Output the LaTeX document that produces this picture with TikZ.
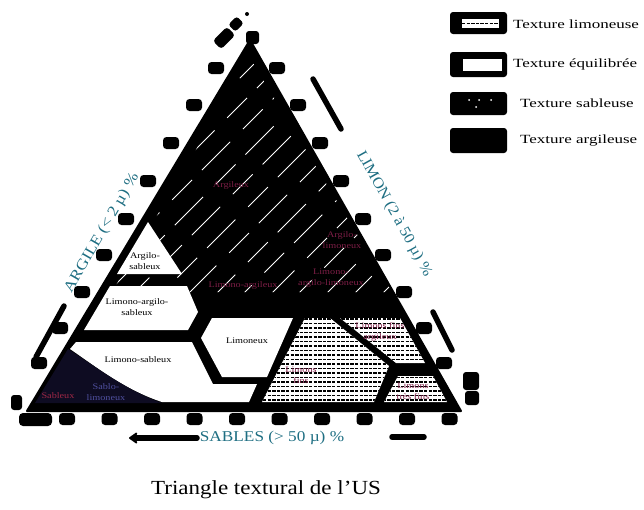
\documentclass[tikz,border=0pt]{standalone}
\usepackage{fontspec}
\setmainfont{Liberation Serif}
\usepackage{graphicx}
\usetikzlibrary{arrows.meta}
\definecolor{axiscol}{RGB}{30,110,130}
\definecolor{labred}{RGB}{125,30,70}
\definecolor{sabred}{RGB}{160,40,70}
\definecolor{sabblue}{RGB}{80,80,160}
\definecolor{sabnavy}{RGB}{14,12,34}
\newcommand{\sx}[2][1.2]{\scalebox{#1}[1]{#2}}
\newcommand{\dotreg}[1]{%
  \fill[white] #1;
  \begin{scope}
    \clip #1;
    \foreach \yy in {319,323.5,...,404} \draw[dashrow] (240,\yy) -- (470,\yy);
  \end{scope}}
\begin{document}
\begin{tikzpicture}[x=1pt,y=-1pt,
  lab/.style={font=\fontsize{8.5}{11}\selectfont, align=center, inner sep=0pt},
  darklab/.style={lab, text=labred},
  axislab/.style={font=\fontsize{15}{16}\selectfont, text=axiscol, inner sep=0pt},
  legtext/.style={font=\fontsize{12.5}{14}\selectfont, anchor=west, inner sep=0pt},
  axisline/.style={line width=5.5pt, line cap=round},
  dashrow/.style={line width=1.1pt, dash pattern=on 3.3pt off 1.3pt},
  hatchline/.style={white, line width=0.8pt},
  legbox/.style={fill=black, rounded corners=3pt}]
\useasboundingbox (0,0) rectangle (644,509);

% ---------- triangle body ----------
\fill[line join=round] (250,40) -- (27,411) -- (461,411) -- cycle;
\draw[line width=2pt, line join=round] (250,40) -- (27,411) -- (461,411) -- cycle;

% white diagonal hatching of the clay zone
\begin{scope}
  \clip (250,58) -- (112,292) -- (392,292) -- cycle;
  \foreach \c/\ph in {318/0,345/14,372/30,400/8,427/22,455/40,482/5,510/18,537/33,565/12,592/26,620/3,648/20,676/9}
    \draw[hatchline, dash pattern=on 28pt off 14pt on 40pt off 18pt, dash phase=\ph pt] (\c-320,320) -- (\c-30,30);
\end{scope}

% white zones
\fill[white] (148,222) -- (117,274) -- (182,274) -- cycle;                    % argilo-sableux
\fill[white] (110,286) -- (187,286) -- (198,312) -- (188,330) -- (84,330) -- cycle; % limono-argilo-sableux
\fill[white] (212,318) -- (293,318) -- (267,377) -- (222,377) -- (201,338) -- cycle; % limoneux
\fill[white] (76,342) -- (192,342) -- (213,384) -- (257,384) -- (249,402) -- (162,402)
   .. controls (125,390) and (95,366) .. (70,349) -- cycle;                    % limono-sableux
\fill[sabnavy] (35,403) -- (68,349) .. controls (95,366) and (125,390) .. (162,403) -- cycle; % sableux

% dotted zones
\dotreg{(305,318) -- (330,318) -- (389,366) -- (374,402) -- (262,402) -- cycle}
\dotreg{(340,318) -- (400,318) -- (425,363) -- (396,363) -- cycle}
\dotreg{(398,376) -- (433,376) -- (447,402) -- (384,402) -- cycle}

% ---------- zone labels ----------
\node[darklab] (argileux) at (231,185) {\sx{Argileux}};
\node[darklab] (arglim) at (342,240) {\sx{Argilo-}\\\sx{limoneux}};
\node[darklab] (limarg) at (243,285) {\sx{Limono-argileux}};
\node[darklab] (limarglim) at (331,278) {\sx{Limono-}\\\sx{argilo-limoneux}};
\node[lab] (argsab) at (145,261) {\sx{Argilo-}\\\sx{sableux}};
\node[lab] (limargsab) at (137,307) {\sx{Limono-argilo-}\\\sx{sableux}};
\node[lab] (limoneux) at (247,341) {\sx{Limoneux}};
\node[lab] (limsab) at (138,360) {\sx{Limono-sableux}};
\node[lab, text=sabred] (sableux) at (58,396) {\sx{Sableux}};
\node[lab, text=sabblue] (sablim) at (106,392) {\sx{Sablo-}\\\sx{limoneux}};
\node[darklab] (limfins) at (301,375) {\sx{Limons}\\\sx{fins}};
\node[darklab] (limargfins) at (380,332) {\sx{Limons fins}\\\sx{argileux}};
\node[darklab] (limtresfins) at (413,391) {\sx{Limons}\\\sx{très fins}};

% ---------- graduation blobs ----------
\foreach \x/\y in {216/68,194/105,171/143,148/181,126/219,104/255,82/292,60/328,39/363,
                   277/68,298/105,320/143,341/181,363/219,383/255,404/292,424/328,444/363,
                   67/419,109.5/419,152/419,194.5/419,237/419,279.5/419,322/419,364.5/419,407/419,449.5/419}
  \fill[rounded corners=3.5pt] (\x-8,\y-6) rectangle (\x+8,\y+6);
\fill[rounded corners=4pt] (19,413) rectangle (52,426);
\fill[rounded corners=3pt] (11,395) rectangle (22,410);
\fill[rounded corners=3pt] (463,372) rectangle (479,390);
\fill[rounded corners=3pt] (465,391) rectangle (479,405);
\fill[rounded corners=3.5pt, rotate around={45:(224,38)}] (214,32) rectangle (234,44);
\fill[rounded corners=3pt, rotate around={45:(236,24)}] (230,19) rectangle (242,29);
\fill (247,14) circle (2pt);
\fill[rounded corners=3pt] (246,31) rectangle (259,44);

% ---------- axis arrows and titles ----------
\coordinate (sa1) at (197,438);
\coordinate (sa2) at (129,438);
\coordinate (sb1) at (392,437);
\coordinate (sb2) at (424,437);
\draw[axisline, -{Stealth[length=10pt,width=14pt,round]}] (sa1) -- (sa2);
\draw[axisline] (sb1) -- (sb2);
\node[axislab] (sables) at (272,438) {\sx[1.15]{SABLES (> 50 µ) \%}};

\coordinate (aa1) at (64,306);
\coordinate (aa2) at (36,357);
\draw[axisline] (aa1) -- (aa2);
\node[axislab, rotate=60] (argile) at (102,233) {\sx[1.15]{ARGILE (< 2 µ) \%}};

\coordinate (la1) at (313,79);
\coordinate (la2) at (341,129);
\coordinate (lb1) at (433,312);
\coordinate (lb2) at (452,350);
\draw[axisline] (la1) -- (la2);
\draw[axisline] (lb1) -- (lb2);
\node[axislab, rotate=-61] (limon) at (394,214) {\sx[1.1]{LIMON (2 à 50 µ) \%}};

% ---------- legend ----------
\fill[legbox] (450,12) rectangle (507,34);
\fill[white] (462,19) rectangle (499,28);
\draw[line width=1.3pt, dash pattern=on 3.3pt off 1.3pt] (462,23.5) -- (499,23.5);
\fill[legbox] (450,52) rectangle (507,77);
\fill[white] (463,59) rectangle (502,71);
\fill[legbox] (450,92) rectangle (507,115);
\foreach \x/\y in {469/100,479/100,491/100,476/107}
  \fill[white] (\x,\y) circle (1pt);
\fill[legbox] (450,128) rectangle (507,153);
\node[legtext] (leg1) at (513,24) {\sx[1.36]{Texture limoneuse}};
\node[legtext] (leg2) at (513,64) {\sx[1.36]{Texture équilibrée}};
\node[legtext] (leg3) at (520,103) {\sx[1.36]{Texture sableuse}};
\node[legtext] (leg4) at (520,141) {\sx[1.36]{Texture argileuse}};

% ---------- caption ----------
\node[font=\fontsize{20}{22}\selectfont, inner sep=0pt] (title) at (266,490) {\sx[1.15]{Triangle textural de l'US}};
\end{tikzpicture}
\end{document}
